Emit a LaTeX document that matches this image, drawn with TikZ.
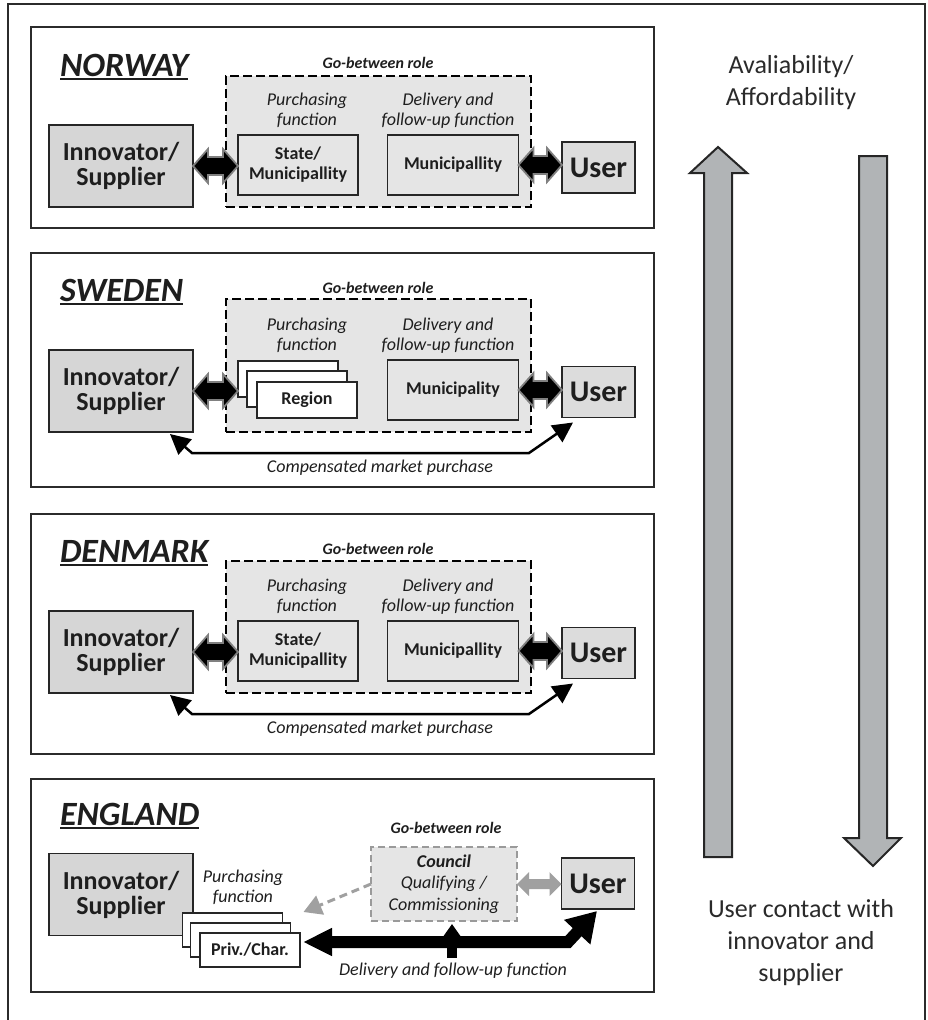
\documentclass[tikz,border=0pt]{standalone}
\usepackage{fontspec}
\setmainfont{Carlito}
\usetikzlibrary{arrows.meta,calc}

\definecolor{txt}{HTML}{1E1E1E}
\definecolor{sidetxt}{HTML}{2A2A2A}
\definecolor{pline}{HTML}{2B2B2B}
\definecolor{bline}{HTML}{262626}
\definecolor{gbfill}{HTML}{E5E5E5}
\definecolor{innfill}{HTML}{D6D6D6}
\definecolor{usrfill}{HTML}{DCDCDC}
\definecolor{arrowfill}{HTML}{B1B4B6}
\definecolor{dblrim}{HTML}{808080}
\definecolor{dblgray}{HTML}{A0A0A0}
\definecolor{cngray}{HTML}{9A9A9A}

\tikzset{
  every node/.style={inner sep=0pt, outer sep=0pt, text=txt},
  panelframe/.style={draw=pline, line width=1.4pt},
  countrytitle/.style={font=\fontsize{34}{38}\selectfont\bfseries\itshape, anchor=base west},
  ulinestyle/.style={draw=txt, line width=2pt},
  gbox/.style={draw=black, line width=2.4pt, dash pattern=on 9pt off 4pt, fill=gbfill},
  gblabel/.style={font=\fontsize{16}{19}\selectfont\bfseries\itshape, anchor=base},
  fnlabel/.style={font=\fontsize{18}{20}\selectfont\itshape, align=center},
  inbox/.style={draw=bline, line width=1.3pt, fill=gbfill, minimum height=60pt,
    font=\fontsize{18}{20}\selectfont\bfseries, align=center},
  innbox/.style={draw=bline, line width=1.3pt, fill=innfill, minimum width=144pt,
    minimum height=82pt, font=\fontsize{26}{25}\selectfont\bfseries, align=center},
  userbox/.style={draw=bline, line width=1.3pt, fill=usrfill, minimum width=73pt,
    minimum height=51pt, font=\fontsize{30}{32}\selectfont\bfseries},
  stackbox/.style={draw=bline, line width=1.1pt, fill=white, minimum width=100pt,
    minimum height=34pt, font=\fontsize{18}{20}\selectfont\bfseries},
  cnbox/.style={draw=cngray, line width=2pt, dash pattern=on 7pt off 4pt, fill=gbfill,
    minimum width=146pt, minimum height=74pt, align=center,
    font=\fontsize{18}{21.5}\selectfont\itshape},
  % fat two-headed arrow between two nodes: head length, head half-height, shaft half-height
  fatdbl/.style n args={3}{to path={let \p1=(\tikztostart), \p2=(\tikztotarget) in
    (\x1,\y1) -- (\x1+#1,\y1+#2) -- (\x1+#1,\y1+#3) -- (\x2-#1,\y1+#3) -- (\x2-#1,\y1+#2)
    -- (\x2,\y1) -- (\x2-#1,\y1-#2) -- (\x2-#1,\y1-#3) -- (\x1+#1,\y1-#3)
    -- (\x1+#1,\y1-#2) -- cycle}},
  dblfat/.style={fatdbl={15pt}{17pt}{9pt}, fill=black, draw=dblrim, line width=1.8pt,
    line join=miter},
  graydbl/.style={fatdbl={12pt}{12pt}{5pt}, fill=dblgray, draw=none},
  cmparrow/.style={draw=black, line width=2.5pt, line join=miter,
    {Triangle[length=20pt,width=20pt]}-{Triangle[length=20pt,width=20pt]}},
  grayarrow/.style={draw=dblgray, line width=3pt, dash pattern=on 8pt off 5pt,
    -{Triangle[length=18pt,width=20pt]}},
  bigarrow/.style={draw=black, line width=12pt, line join=miter,
    {Triangle[length=29pt,width=26pt]}-{Triangle[length=29pt,width=34pt]}},
  smallup/.style={draw=black, line width=10pt, -{Triangle[length=12pt,width=16pt]}},
  bigshape/.style={fill=arrowfill, draw=bline, line width=2pt, line join=miter},
  sidetext/.style={font=\fontsize{26}{32}\selectfont, align=center, text=sidetxt},
}

\begin{document}
\begin{tikzpicture}[x=1pt,y=-1pt]
\useasboundingbox (0,0) rectangle (927,1020);

% outer frame, open at the bottom
\draw[draw=pline, line width=2pt] (8,1020) -- (8,4) -- (925,4) -- (925,1020);

% ---------------- NORWAY ----------------
\draw[panelframe] (31,27) rectangle (654,228);
\node[countrytitle] (nw-title) at (60,76) {NORWAY};
\draw[ulinestyle] ([shift={(0,3)}]nw-title.base west) -- ([shift={(0,3)}]nw-title.base east);
\node[gbox, minimum width=305pt, minimum height=131pt] (nw-gb) at (378.5,141.5) {};
\node[gblabel] (nw-gbl) at (378,68) {Go-between role};
\node[fnlabel] (nw-pf) at (307,110.5) {Purchasing\\function};
\node[fnlabel] (nw-df) at (448,110.5) {Delivery and\\follow-up function};
\node[inbox, minimum width=120pt] (nw-st) at (298,165) {State/\\Municipallity};
\node[inbox, minimum width=131pt] (nw-mu) at (453,165) {Municipallity};
\node[innbox] (nw-inn) at (121,166) {Innovator/\\Supplier};
\node[userbox] (nw-usr) at (598.5,167.5) {User};
\path[dblfat] (nw-inn.east) to (nw-st.west);
\path[dblfat] (nw-mu.east) to (nw-usr.west);

% ---------------- SWEDEN ----------------
\draw[panelframe] (31,253) rectangle (654,487);
\node[countrytitle] (sw-title) at (60,301) {SWEDEN};
\draw[ulinestyle] ([shift={(0,3)}]sw-title.base west) -- ([shift={(0,3)}]sw-title.base east);
\node[gbox, minimum width=305pt, minimum height=133pt] (sw-gb) at (378.5,365.5) {};
\node[gblabel] (sw-gbl) at (378,293) {Go-between role};
\node[fnlabel] (sw-pf) at (307,335.5) {Purchasing\\function};
\node[fnlabel] (sw-df) at (448,335.5) {Delivery and\\follow-up function};
\node[stackbox, minimum height=36pt] (sw-rgb) at (288,379) {};
\node[stackbox, minimum height=36pt] (sw-rgm) at (297,389) {};
\node[stackbox, minimum height=36pt] (sw-rg) at (307,400) {Region};
\node[inbox, minimum width=131pt] (sw-mu) at (453,390) {Municipality};
\node[innbox] (sw-inn) at (121,391) {Innovator/\\Supplier};
\node[userbox] (sw-usr) at (598.5,392) {User};
\path[dblfat] (sw-inn.east) to (sw-rgb.west);
\path[dblfat] (sw-mu.east) to (sw-usr.west);
\draw[cmparrow] ([shift={(-23,2)}]sw-inn.south east) -- ++(22,19) coordinate (sw-c1)
  -- ([xshift=-33pt]sw-usr.south west |- sw-c1) -- ([shift={(11,5)}]sw-usr.south west);
\node[fnlabel] (sw-cmp) at (380,468) {Compensated market purchase};

% ---------------- DENMARK ----------------
\draw[panelframe] (31,514) rectangle (654,754);
\node[countrytitle] (dk-title) at (60,562) {DENMARK};
\draw[ulinestyle] ([shift={(0,3)}]dk-title.base west) -- ([shift={(0,3)}]dk-title.base east);
\node[gbox, minimum width=305pt, minimum height=132pt] (dk-gb) at (378.5,627) {};
\node[gblabel] (dk-gbl) at (378,554) {Go-between role};
\node[fnlabel] (dk-pf) at (307,596.5) {Purchasing\\function};
\node[fnlabel] (dk-df) at (448,596.5) {Delivery and\\follow-up function};
\node[inbox, minimum width=120pt] (dk-st) at (298,651) {State/\\Municipallity};
\node[inbox, minimum width=131pt] (dk-mu) at (453,651) {Municipallity};
\node[innbox] (dk-inn) at (121,652) {Innovator/\\Supplier};
\node[userbox] (dk-usr) at (598.5,653) {User};
\path[dblfat] (dk-inn.east) to (dk-st.west);
\path[dblfat] (dk-mu.east) to (dk-usr.west);
\draw[cmparrow] ([shift={(-23,2)}]dk-inn.south east) -- ++(22,19) coordinate (dk-c1)
  -- ([xshift=-33pt]dk-usr.south west |- dk-c1) -- ([shift={(11,5)}]dk-usr.south west);
\node[fnlabel] (dk-cmp) at (380,729) {Compensated market purchase};

% ---------------- ENGLAND ----------------
\draw[panelframe] (31,779) rectangle (654,992);
\node[countrytitle] (en-title) at (60,825) {ENGLAND};
\draw[ulinestyle] ([shift={(0,3)}]en-title.base west) -- ([shift={(0,3)}]en-title.base east);
\node[gblabel] (en-gbl) at (446,833) {Go-between role};
\node[cnbox] (en-cn) at (444,884) {\textbf{Council}\\Qualifying /\\Commissioning};
\node[innbox] (en-inn) at (121,894.5) {Innovator/\\Supplier};
\node[fnlabel] (en-pf) at (243,887.5) {Purchasing\\function};
\node[stackbox] (en-pcb) at (232.5,930) {};
\node[stackbox] (en-pcm) at (240.5,940) {};
\node[stackbox] (en-pc) at (250,950) {Priv./Char.};
\node[userbox] (en-usr) at (598,883.5) {User};
\path[graydbl] (en-cn.east) to (en-usr.west);
\draw[grayarrow] (en-cn.west) -- ([shift={(21,-1)}]en-pcb.north east);
\coordinate (en-vs) at (452,958);
\draw[smallup] (en-vs) -- ([shift={(8,3)}]en-cn.south);
\draw[bigarrow] ([shift={(3,-8)}]en-pc.east) -- ([shift={(-30,33)}]en-usr.south)
  -- ([shift={(-1,2)}]en-usr.south);
\node[fnlabel] (en-dl) at (453,971) {Delivery and follow-up function};

% ---------------- side arrows and captions ----------------
\draw[bigshape] (704,857) -- (704,173) -- (690,173) -- (718,147) -- (747,173)
  -- (732,173) -- (732,857) -- cycle;
\draw[bigshape] (859,156) -- (887,156) -- (887,838) -- (901,838) -- (873,866)
  -- (844,838) -- (859,838) -- cycle;
\node[sidetext] (avail) at (791,83) {Avaliability/\\Affordability};
\node[sidetext] (contact) at (801,943) {User contact with\\innovator and\\supplier};
\end{tikzpicture}
\end{document}
